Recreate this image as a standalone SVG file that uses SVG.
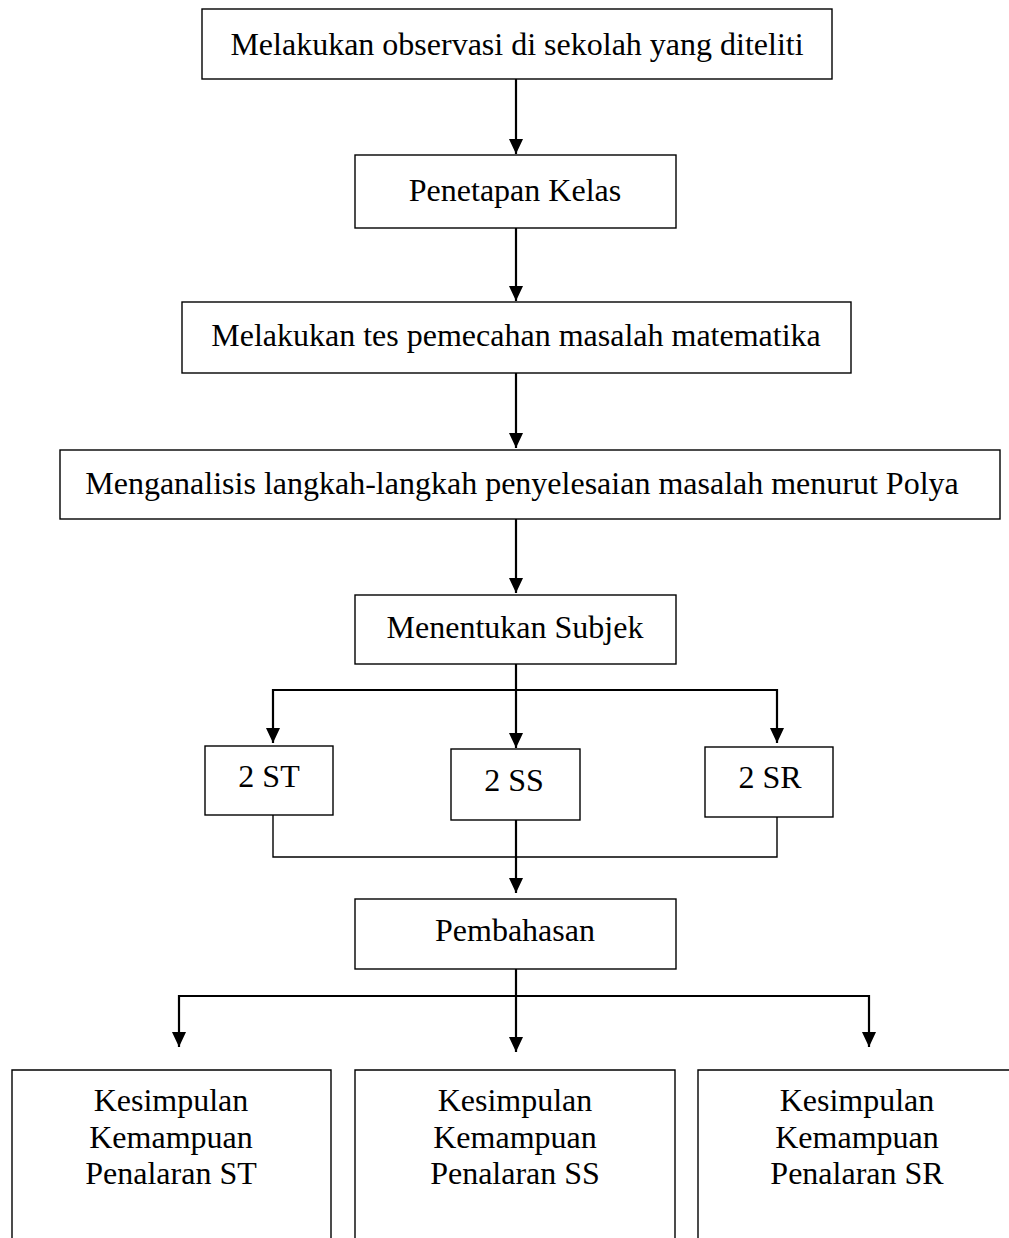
<svg xmlns="http://www.w3.org/2000/svg" width="1009" height="1238" viewBox="0 0 1009 1238">
<style>
.box{fill:#fff;stroke:#000;stroke-width:1.4}
.t{font-family:"Liberation Serif","Times New Roman",serif;font-size:32px;fill:#000;text-anchor:middle}
.a{fill:none;stroke:#000;stroke-width:2.2}
.l{fill:none;stroke:#000;stroke-width:1.4}
</style>
<defs>
<marker id="ah" viewBox="0 0 15 14" refX="15" refY="7" markerWidth="15" markerHeight="14" markerUnits="userSpaceOnUse" orient="auto-start-reverse">
<path d="M0,0 L15,7 L0,14 Z" fill="#000"/>
</marker>
</defs>
<rect width="1009" height="1238" fill="#fff"/>
<g id="connectors">
<line class="a" x1="516" y1="79" x2="516" y2="154" marker-end="url(#ah)"/>
<line class="a" x1="516" y1="228" x2="516" y2="301" marker-end="url(#ah)"/>
<line class="a" x1="516" y1="373" x2="516" y2="448" marker-end="url(#ah)"/>
<line class="a" x1="516" y1="519" x2="516" y2="593" marker-end="url(#ah)"/>
<line class="a" x1="516" y1="664" x2="516" y2="748" marker-end="url(#ah)"/>
<polyline class="a" points="273,743 273,690 777,690 777,743" marker-start="url(#ah)" marker-end="url(#ah)"/>
<polyline class="l" points="273,815 273,857 777,857 777,817"/>
<line class="a" x1="516" y1="820" x2="516" y2="893" marker-end="url(#ah)"/>
<line class="a" x1="516" y1="969" x2="516" y2="1052" marker-end="url(#ah)"/>
<polyline class="a" points="179,1047 179,996 869,996 869,1047" marker-start="url(#ah)" marker-end="url(#ah)"/>
</g>
<g id="n1"><rect class="box" x="202" y="9" width="630" height="70"/><text class="t" x="517" y="55">Melakukan observasi di sekolah yang diteliti</text></g>
<g id="n2"><rect class="box" x="355" y="155" width="321" height="73"/><text class="t" x="515" y="201">Penetapan Kelas</text></g>
<g id="n3"><rect class="box" x="182" y="302" width="669" height="71"/><text class="t" x="516" y="346">Melakukan tes pemecahan masalah matematika</text></g>
<g id="n4"><rect class="box" x="60" y="450" width="940" height="69"/><text class="t" x="522" y="494">Menganalisis langkah-langkah penyelesaian masalah menurut Polya</text></g>
<g id="n5"><rect class="box" x="355" y="595" width="321" height="69"/><text class="t" x="515" y="638">Menentukan Subjek</text></g>
<g id="n6"><rect class="box" x="205" y="746" width="128" height="69"/><text class="t" x="269" y="787">2 ST</text></g>
<g id="n7"><rect class="box" x="451" y="749" width="129" height="71"/><text class="t" x="514" y="791">2 SS</text></g>
<g id="n8"><rect class="box" x="705" y="747" width="128" height="70"/><text class="t" x="770" y="788">2 SR</text></g>
<g id="n9"><rect class="box" x="355" y="899" width="321" height="70"/><text class="t" x="515" y="941">Pembahasan</text></g>
<g id="n10"><path class="box" d="M12,1250 L12,1070 L331,1070 L331,1250"/><text class="t" x="171" y="1111">Kesimpulan</text><text class="t" x="171" y="1148">Kemampuan</text><text class="t" x="171" y="1184">Penalaran ST</text></g>
<g id="n11"><path class="box" d="M355,1250 L355,1070 L675,1070 L675,1250"/><text class="t" x="515" y="1111">Kesimpulan</text><text class="t" x="515" y="1148">Kemampuan</text><text class="t" x="515" y="1184">Penalaran SS</text></g>
<g id="n12"><path class="box" d="M698,1250 L698,1070 L1015,1070"/><text class="t" x="857" y="1111">Kesimpulan</text><text class="t" x="857" y="1148">Kemampuan</text><text class="t" x="857" y="1184">Penalaran SR</text></g>
</svg>
